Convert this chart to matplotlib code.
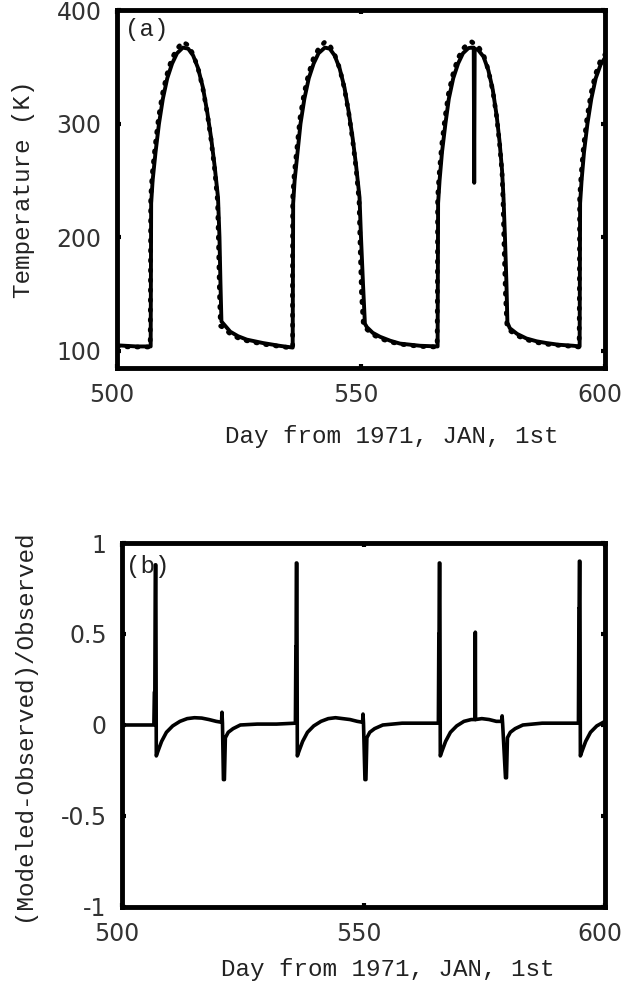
import matplotlib
matplotlib.use('Agg')
import matplotlib.pyplot as plt
import matplotlib.transforms as mtransforms

# ==================== data ====================
# (a) observed surface temperature (solid line), day / K
obs_day = [500.0, 502.0, 504.0, 506.9,
           507.0, 507.3, 507.9, 508.6, 509.4, 510.3, 511.3, 512.3, 513.5, 514.6,
           515.6, 516.6, 517.6, 518.5, 519.3, 520.0, 520.7, 521.0, 521.2, 521.4,
           522.0, 523.2, 524.8, 526.6, 529.9, 533.4, 536.0,
           536.1, 536.4, 537.0, 537.6, 538.4, 539.3, 540.3, 541.3, 542.6, 543.6,
           544.6, 545.6, 546.6, 547.5, 548.3, 549.0, 549.7, 550.0, 550.4, 550.8,
           551.2, 552.4, 553.9, 556.0, 558.0, 562.1, 565.7,
           565.8, 566.1, 566.6, 567.3, 568.0, 568.9, 569.9, 570.9, 572.0, 572.7,
           573.1, 573.2, 573.3, 574.0, 575.1, 576.1, 577.0, 577.8, 578.4, 578.9,
           579.2, 579.5, 579.8, 580.0, 580.5, 582.0, 583.9, 586.0, 588.0, 590.5,
           593.5, 594.8,
           594.9, 595.2, 595.7, 596.4, 597.2, 598.1, 599.1, 600.0]
obs_temp = [105, 104.5, 104, 104,
            230, 250, 275, 300, 322, 340, 353, 362, 367, 366,
            360, 349, 332, 310, 287, 263, 235, 200, 160, 126,
            123, 117, 113, 110, 107, 104.5, 103,
            230, 250, 275, 300, 322, 340, 353, 362, 367, 366,
            360, 349, 332, 310, 287, 263, 235, 200, 160, 124,
            121, 116, 112.5, 109, 106.5, 104.6, 104,
            230, 250, 275, 300, 322, 340, 353, 362, 366.5, 367,
            367, 248, 366, 365, 359, 347, 330, 307, 284, 259,
            235, 200, 160, 125, 120, 115, 111, 108.5, 107, 105.5,
            104.6, 104,
            230, 250, 275, 300, 322, 340, 352, 358]

# (a) modeled temperature (dots)
mod_day = [500.0, 503.0, 506.8, 506.85, 506.9, 507.2, 507.8, 508.5, 509.3, 510.2,
           511.2, 512.3, 513.5, 514.6, 515.6, 516.6, 517.6, 518.5, 519.3, 520.0,
           520.6, 520.8, 521.0, 521.2, 522.0, 523.2, 524.8, 526.6, 529.9, 533.4,
           536.0,
           535.95, 536.0, 536.3, 536.9, 537.5, 538.3, 539.2, 540.2, 541.3, 542.6,
           543.6, 544.6, 545.6, 546.6, 547.5, 548.3, 549.0, 549.6, 549.8, 550.1,
           550.5, 551.2, 552.4, 553.9, 556.0, 558.0, 562.1, 565.6,
           565.65, 565.7, 566.0, 566.5, 567.2, 567.9, 568.8, 569.8, 570.9, 572.0,
           572.7, 574.0, 575.1, 576.1, 577.0, 577.8, 578.4, 578.9, 579.1, 579.3,
           579.6, 579.9, 580.5, 582.0, 583.9, 586.0, 588.0, 590.5, 593.5, 594.7,
           594.75, 594.8, 595.1, 595.6, 596.3, 597.1, 598.0, 599.0, 600.0]
mod_temp = [104, 103.5, 103.5, 150, 235, 255, 280, 305, 326, 343,
            357, 366, 372, 369, 361, 349, 331, 309, 285, 260,
            232, 195, 150, 122, 120, 115, 111.5, 109, 106, 104,
            102.5,
            150, 235, 255, 280, 305, 326, 343, 357, 366, 372,
            369, 361, 349, 331, 309, 285, 260, 232, 195, 150,
            122, 119, 114.5, 111, 108, 106, 104, 103.5,
            150, 235, 255, 280, 305, 326, 343, 357, 366, 371,
            372, 368, 361, 347, 329, 306, 282, 257, 232, 195,
            150, 122, 118, 113.5, 110, 107.5, 106, 105, 104, 103.5,
            150, 235, 255, 280, 305, 326, 343, 355, 361]

# (b) (Modeled-Observed)/Observed
err_day = [500.0, 503.0, 506.6, 506.7, 506.8, 506.9, 507.0, 507.1, 507.5, 508.2,
           509.2, 510.5, 512.0, 513.5, 515.0, 516.5, 518.0, 519.5, 520.6, 520.7,
           520.8, 521.0, 521.2, 521.4, 522.0, 523.0, 524.5, 528.0, 532.0, 535.9,
           536.0, 536.05, 536.1, 536.2, 536.3, 536.7, 537.4, 538.4, 539.7, 541.2,
           542.7, 544.2, 545.7, 547.2, 548.7, 549.8, 549.9, 550.0, 550.3, 550.5,
           550.7, 551.3, 552.3, 554.0, 558.0, 562.0, 565.5,
           565.6, 565.65, 565.7, 565.8, 565.9, 566.3, 567.0, 568.0, 569.3, 570.8,
           572.3, 573.1, 573.15, 573.2, 574.5, 576.0, 577.5, 578.6, 578.7, 578.8,
           579.4, 579.6, 579.8, 580.4, 581.4, 583.0, 587.0, 591.0, 594.5,
           594.6, 594.65, 594.7, 594.8, 594.9, 595.3, 596.0, 597.0, 598.3, 600.0]
err_val = [0.0, 0.0, 0.0, 0.18, 0.18, 0.88, 0.88, -0.17, -0.14, -0.09,
           -0.04, -0.005, 0.02, 0.035, 0.04, 0.038, 0.03, 0.02, 0.015, 0.07,
           0.01, -0.3, -0.3, -0.07, -0.04, -0.02, 0.0, 0.005, 0.005, 0.01,
           0.43, 0.43, 0.89, 0.89, -0.17, -0.14, -0.09, -0.04, -0.005, 0.02,
           0.035, 0.04, 0.035, 0.03, 0.02, 0.015, 0.06, 0.01, -0.3, -0.3,
           -0.07, -0.04, -0.02, 0.0, 0.01, 0.01, 0.01,
           0.5, 0.5, 0.89, 0.89, -0.17, -0.14, -0.09, -0.04, -0.005, 0.02,
           0.03, 0.03, 0.51, 0.03, 0.035, 0.03, 0.02, 0.02, 0.05, 0.01,
           -0.29, -0.29, -0.07, -0.04, -0.02, 0.0, 0.01, 0.01, 0.01,
           0.64, 0.64, 0.9, 0.9, -0.17, -0.14, -0.09, -0.04, -0.005, 0.02]

x_ticks = [500, 550, 600]
temp_ticks = [100, 200, 300, 400]
err_ticks = [-1, -0.5, 0, 0.5, 1]
err_tick_labels = ['-1', '-0.5', '0', '0.5', '1']
xlabel_txt = 'Day from 1971, JAN, 1st'

# ==================== style ====================
MONO = 'Liberation Mono'
plt.rcParams['font.family'] = 'DejaVu Sans'
plt.rcParams['axes.unicode_minus'] = False


def style_axes(ax, fig):
    for s in ax.spines.values():
        s.set_linewidth(3.5)
    ax.tick_params(direction='in', length=3, width=3, top=True, right=True,
                   labelsize=17, labelcolor='#333', pad=11)
    # the x tick labels sit a few pixels left of their ticks in the original
    shift = mtransforms.ScaledTranslation(-5 / 100, 0, fig.dpi_scale_trans)
    for lab in ax.get_xticklabels():
        lab.set_transform(lab.get_transform() + shift)


fig = plt.figure(figsize=(6.25, 9.88), dpi=100)

# ---- (a) temperature
ax1 = fig.add_axes([0.1872, 0.6275, 0.7808, 0.3623])
ax1.plot(obs_day, obs_temp, color='black', lw=2.8)
ax1.plot(mod_day, mod_temp, color='black', lw=3.4, ls=(0, (0.3, 1.8)),
         dash_capstyle='round')
ax1.set_xlim(500, 600)
ax1.set_ylim(85, 400)
ax1.set_xticks(x_ticks)
ax1.set_yticks(temp_ticks)
style_axes(ax1, fig)
ax1.set_ylabel('Temperature (K)', family=MONO, fontsize=17.5, color='#222')
ax1.yaxis.set_label_coords(-0.168, 0.5)
ax1.set_xlabel(xlabel_txt, family=MONO, fontsize=17.5, color='#222')
ax1.xaxis.set_label_coords(0.563, -0.16)
ax1.text(0.016, 0.978, '(a)', transform=ax1.transAxes, family=MONO,
         fontsize=17.5, va='top', ha='left', color='#222')

# ---- (b) relative error
ax2 = fig.add_axes([0.1952, 0.082, 0.7728, 0.3684])
ax2.plot(err_day, err_val, color='black', lw=2.6)
ax2.set_xlim(500, 600)
ax2.set_ylim(-1, 1)
ax2.set_xticks(x_ticks)
ax2.set_yticks(err_ticks)
ax2.set_yticklabels(err_tick_labels)
style_axes(ax2, fig)
ax2.set_ylabel('(Modeled-Observed)/Observed', family=MONO, fontsize=17.5,
               color='#222')
ax2.yaxis.set_label_coords(-0.18, 0.5)
ax2.set_xlabel(xlabel_txt, family=MONO, fontsize=17.5, color='#222')
ax2.xaxis.set_label_coords(0.551, -0.14)
ax2.text(0.008, 0.967, '(b)', transform=ax2.transAxes, family=MONO,
         fontsize=17.5, va='top', ha='left', color='#222')

fig.savefig('out.png', dpi=100)
